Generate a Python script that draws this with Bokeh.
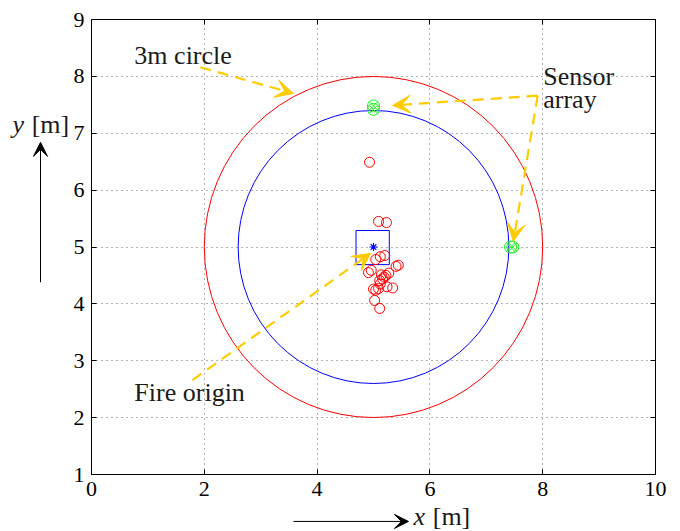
from bokeh.plotting import figure
from bokeh.models import (Range1d, LinearAxis, Label, Arrow, VeeHead, FixedTicker)
from bokeh.layouts import column, row
from bokeh.embed import file_html
from bokeh.resources import INLINE

# ---- data ----
x_ticks = [0, 2, 4, 6, 8, 10]
y_ticks = [1, 2, 3, 4, 5, 6, 7, 8, 9]

fire_x = [4.93, 5.09, 5.23, 5.04, 5.12, 5.20, 5.40, 5.44, 4.96, 4.91, 5.14, 5.22,
          5.27, 5.19, 5.11, 5.16, 5.12, 5.24, 5.34, 5.00, 5.04, 5.09, 5.02, 5.11]
fire_y = [6.49, 5.45, 5.43, 4.78, 4.83, 4.85, 4.66, 4.68, 4.59, 4.55, 4.51, 4.50,
          4.54, 4.47, 4.41, 4.44, 4.35, 4.30, 4.28, 4.26, 4.24, 4.27, 4.06, 3.92]

sensor_x = [5.0, 5.0, 7.43, 7.47]
sensor_y = [7.48, 7.42, 5.0, 5.0]

center_x = [5.0]
center_y = [5.0]

circle_x = [5.0, 5.0]
circle_y = [5.0, 5.0]
circle_d = [6.0, 4.8]
circle_col = ["#FF0000", "#0000FF"]

box_left = [4.69]
box_right = [5.28]
box_bottom = [4.69]
box_top = [5.29]

# annotation arrows (start -> tip)
ann_x0 = [1.93, 7.91, 7.91, 1.79]
ann_y0 = [8.16, 7.66, 7.66, 2.66]
ann_x1 = [3.58, 5.34, 7.48, 4.95]
ann_y1 = [7.70, 7.49, 5.10, 4.89]

ann_text = ["3m circle", "Sensor", "array", "Fire origin"]
ann_tx = [0.76, 8.01, 8.01, 0.76]
ann_ty = [8.37, 8.00, 7.60, 2.45]

# axis-title annotations (outside the frame)
ylab_text = ["y", "[m]"]
ylab_style = ["italic", "normal"]
ylab_x = [-1.40, -1.06]
ylab_y = [7.15, 7.15]
yarrow = (-0.904, 4.38, -0.904, 6.84)

xlab_text = ["x", "[m]"]
xlab_style = ["italic", "normal"]
xlab_x = [5.71, 6.05]
xlab_y = [0.265, 0.265]
xarrow = (3.58, 0.175, 5.62, 0.175)

GOLD = "#FFCC00"
SERIF = "Liberation Serif"
TXT = "#1a1a1a"

# ---- layout geometry (px) ----
LEFT_W = 69
FW, FH = 564, 455
B_LEFT, B_RIGHT, B_TOP, B_BOTTOM = 22, 17, 19, 33
OVERLAP = 10
BOTTOM_H = 24 + OVERLAP
sx = FW / 10.0
sy = FH / 8.0

xr = Range1d(0, 10)
yr = Range1d(1, 9)

p = figure(frame_width=FW, frame_height=FH, output_backend="svg",
           toolbar_location=None, x_range=xr, y_range=yr,
           min_border_left=B_LEFT, min_border_right=B_RIGHT, min_border_top=B_TOP,
           min_border_bottom=B_BOTTOM)
p.background_fill_color = "white"
p.border_fill_color = "white"
p.outline_line_color = "black"
p.outline_line_width = 1

for ax in p.axis:
    ax.major_tick_in = 5
    ax.major_tick_out = 0
    ax.minor_tick_line_color = None
    ax.major_label_text_font = SERIF
    ax.major_label_text_font_size = "22px"
    ax.major_label_text_color = "black"
    ax.axis_line_color = "black"
    ax.major_tick_line_color = "black"
p.xaxis.major_label_standoff = 7
p.yaxis.major_label_standoff = 7
p.xaxis.ticker = FixedTicker(ticks=x_ticks)
p.yaxis.ticker = FixedTicker(ticks=y_ticks)

for loc, tk in (("right", y_ticks), ("above", x_ticks)):
    a = LinearAxis(ticker=FixedTicker(ticks=tk), major_tick_in=5, major_tick_out=0,
                   minor_tick_line_color=None, major_label_text_font_size="0px",
                   major_label_text_color=None, major_label_standoff=0)
    p.add_layout(a, loc)

p.xgrid.ticker = FixedTicker(ticks=x_ticks)
p.ygrid.ticker = FixedTicker(ticks=y_ticks)
p.grid.grid_line_color = "#666666"
p.grid.grid_line_dash = "1 4"
p.grid.grid_line_width = 1

# circles
p.ellipse(x=circle_x, y=circle_y, width=circle_d, height=circle_d,
          fill_color=None, line_color=circle_col, line_width=1)

# box and centre
p.quad(left=box_left, right=box_right, bottom=box_bottom, top=box_top,
       fill_color=None, line_color="#0000FF", line_width=1)
p.scatter(center_x, center_y, marker="asterisk", size=8, line_color="#0000FF",
          line_width=1.2)

# fire points
p.scatter(fire_x, fire_y, marker="circle", size=10, fill_color=None,
          line_color="#FF0000", line_width=1)

# sensors
p.scatter(sensor_x, sensor_y, marker="circle_x", size=12, fill_color=None,
          line_color="#22EE22", line_width=1)

# yellow annotation arrows
for i in range(len(ann_x0)):
    p.add_layout(Arrow(end=VeeHead(size=18, fill_color=GOLD, line_color=GOLD),
                       x_start=ann_x0[i], y_start=ann_y0[i],
                       x_end=ann_x1[i], y_end=ann_y1[i],
                       line_color=GOLD, line_width=2.2, line_dash="11 7"))

for t, tx, ty in zip(ann_text, ann_tx, ann_ty):
    p.add_layout(Label(x=tx, y=ty, text=t, text_font=SERIF, text_font_size="26px",
                       text_color=TXT, text_baseline="alphabetic"))

# ---- left strip: y-axis title with arrow (same vertical scale as main) ----
lx0 = -(B_LEFT + LEFT_W) / sx
left = figure(frame_width=LEFT_W, frame_height=FH, output_backend="svg",
              toolbar_location=None, x_axis_location=None, y_axis_location=None,
              x_range=Range1d(lx0, lx0 + LEFT_W / sx), y_range=yr,
              min_border_left=0, min_border_right=0, min_border_top=B_TOP,
              min_border_bottom=B_BOTTOM)
left.outline_line_color = None
left.grid.visible = False
for t, st, tx, ty in zip(ylab_text, ylab_style, ylab_x, ylab_y):
    left.add_layout(Label(x=tx, y=ty, text=t, text_font=SERIF, text_font_style=st,
                          text_font_size="26px", text_color=TXT,
                          text_baseline="alphabetic"))
left.add_layout(Arrow(end=VeeHead(size=14, fill_color="black", line_color="black"),
                      x_start=yarrow[0], y_start=yarrow[1],
                      x_end=yarrow[2], y_end=yarrow[3],
                      line_color="black", line_width=1))

# ---- bottom strip: x-axis title with arrow (overlaps main's lower border) ----
TOT_W = LEFT_W + B_LEFT + FW + B_RIGHT
by_top = 1 - (B_BOTTOM - OVERLAP) / sy
bottom = figure(frame_width=TOT_W, frame_height=BOTTOM_H, output_backend="svg",
                toolbar_location=None, x_axis_location=None, y_axis_location=None,
                x_range=Range1d(lx0, lx0 + TOT_W / sx),
                y_range=Range1d(by_top - BOTTOM_H / sy, by_top),
                min_border=0, margin=(-OVERLAP, 0, 0, 0))
bottom.outline_line_color = None
bottom.background_fill_color = None
bottom.border_fill_color = None
bottom.grid.visible = False
for t, st, tx, ty in zip(xlab_text, xlab_style, xlab_x, xlab_y):
    bottom.add_layout(Label(x=tx, y=ty, text=t, text_font=SERIF, text_font_style=st,
                            text_font_size="26px", text_color=TXT,
                            text_baseline="alphabetic"))
bottom.add_layout(Arrow(end=VeeHead(size=14, fill_color="black", line_color="black"),
                        x_start=xarrow[0], y_start=xarrow[1],
                        x_end=xarrow[2], y_end=xarrow[3],
                        line_color="black", line_width=1))

layout = column(row(left, p, spacing=0), bottom, spacing=0)
open("out.html", "w").write(file_html(layout, INLINE))
